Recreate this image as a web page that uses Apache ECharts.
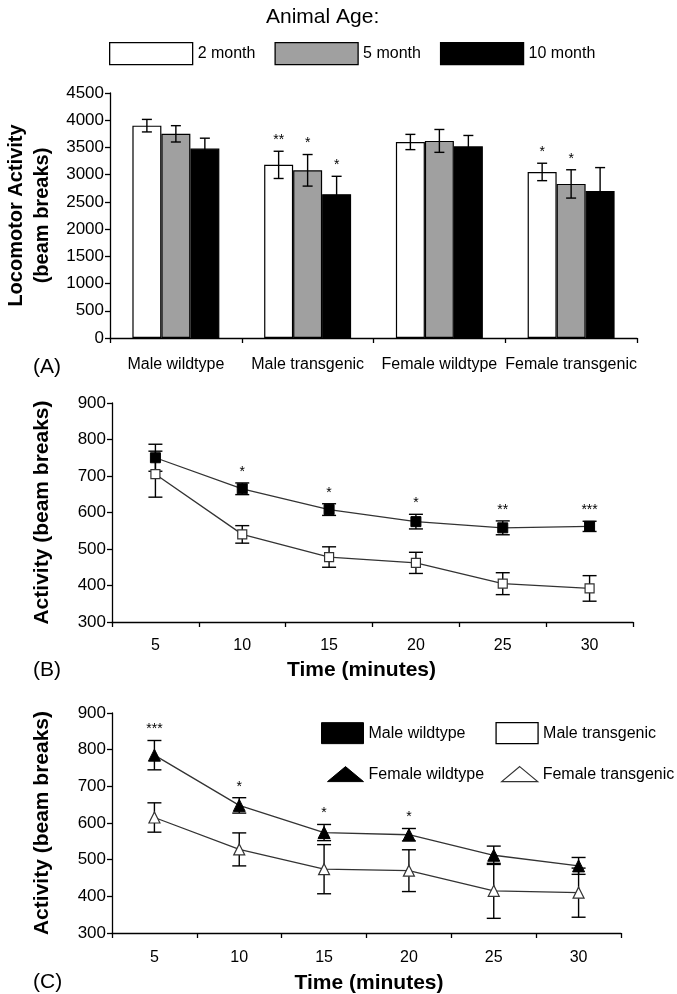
<!DOCTYPE html>
<html><head><meta charset="utf-8">
<script src="https://cdn.jsdelivr.net/npm/echarts/dist/echarts.min.js"></script>
<style>html,body{margin:0;padding:0;background:#fff}#c{width:677px;height:994px}</style>
</head><body><div id="c"></div><script>
// ---- Panel A data ----
const groups = ['Male wildtype','Male transgenic','Female wildtype','Female transgenic'];
const ages = ['2 month','5 month','10 month'];
const act2 = [3900,3180,3600,3050];
const err2 = [115,250,140,160];
const act5 = [3750,3080,3620,2830];
const err5 = [150,290,210,260];
const act10 = [3480,2640,3520,2700];
const err10 = [190,330,200,430];
const sig2 = ['','**','','*'];
const sig5 = ['','*','','*'];
const sig10 = ['','*','',''];
// ---- Panel B data ----
const minutes = ['5','10','15','20','25','30'];
const maleWt = [750,665,608,575,558,562];
const maleWtErr = [37,16,16,20,19,14];
const maleTg = [705,540,478,462,405,392];
const maleTgErr = [63,24,28,29,30,35];
const sigB = ['','*','*','*','**','***'];
// ---- Panel C data ----
const femWt = [785,648,574,568,512,483];
const femWtErr = [40,21,22,17,25,23];
const femTg = [615,528,474,470,415,410];
const femTgErr = [40,45,67,57,75,67];
const sigC = ['***','*','*','*','',''];
const yTicksA = {min:0, max:4500, interval:500};
const yTicksBC = {min:300, max:900, interval:100};

const FONT = 'Liberation Sans, Arial, Helvetica, sans-serif';
const BAR_GAP = 0.34;

function errRender(sigs, k, capW){
  return function(params, api){
    const i = api.value(0), v = api.value(1), e = api.value(2);
    let dx = 0;
    if (k !== null){
      const band = api.size([1,0])[0];
      const bw = band*(1-BAR_GAP)/3;
      dx = (k-1)*bw;
    }
    const t = api.coord([i, v+e]); const b = api.coord([i, v-e]);
    const x = t[0]+dx;
    const st = {stroke:'#000', lineWidth:1.4};
    const ch = [
      {type:'line', shape:{x1:x,y1:t[1],x2:x,y2:b[1]}, style:st},
      {type:'line', shape:{x1:x-capW,y1:t[1],x2:x+capW,y2:t[1]}, style:st},
      {type:'line', shape:{x1:x-capW,y1:b[1],x2:x+capW,y2:b[1]}, style:st}
    ];
    if (sigs && sigs[params.dataIndex]) {
      ch.push({type:'text', x:x, y:t[1]-11, style:{text:sigs[params.dataIndex], align:'center', verticalAlign:'middle', fontSize:14, fontFamily:FONT, fill:'#000'}});
    }
    return {type:'group', children:ch};
  };
}
function errData(vals, errs){ return vals.map((v,i)=>[i, v, errs[i]]); }

const axisLineStyle = {color:'#000', width:1.3};
function yAxis(grid, t, name, gap){
  return {type:'value', gridIndex:grid, min:t.min, max:t.max, interval:t.interval,
    axisLine:{show:true, lineStyle:axisLineStyle},
    axisTick:{show:true, inside:false, length:5, lineStyle:axisLineStyle},
    splitLine:{show:false},
    axisLabel:{fontSize:17, color:'#000', fontFamily:FONT, margin:6, formatter:(v)=>String(v)},
    name:name, nameLocation:'middle', nameRotate:90, nameGap:gap,
    nameTextStyle:{fontSize:gap>55?21:20, fontWeight:'bold', color:'#000', fontFamily:FONT, lineHeight:26}
  };
}
function xCat(grid, data, labelSize, margin, name, nameGap, pad){
  return {type:'category', gridIndex:grid, data:data, boundaryGap:true,
    axisLine:{show:true, lineStyle:axisLineStyle},
    axisTick:{show:true, alignWithLabel:false, length:5, lineStyle:axisLineStyle},
    splitLine:{show:false},
    axisLabel:{interval:0, fontSize:labelSize, color:'#000', fontFamily:FONT, margin:margin},
    name:name, nameLocation:'middle', nameGap:nameGap,
    nameTextStyle:{fontSize:21, fontWeight:'bold', color:'#000', fontFamily:FONT, padding:pad}
  };
}

const chart = echarts.init(document.getElementById('c'), null, {renderer:'canvas'});
const barColors = ['#ffffff','#a0a0a0','#000000'];
const barVals = [act2, act5, act10];
const barErrs = [err2, err5, err10];
const barSigs = [sig2, sig5, sig10];

const series = [];
ages.forEach((a,k)=>{
  series.push({type:'bar', name:a, xAxisIndex:0, yAxisIndex:0, data:barVals[k],
    barGap:'0%', barCategoryGap:(BAR_GAP*100)+'%',
    itemStyle:{color:barColors[k], borderColor:'#000', borderWidth:1.2}, z:2});
});
ages.forEach((a,k)=>{
  series.push({type:'custom', name:a+' err', xAxisIndex:0, yAxisIndex:0, data:errData(barVals[k], barErrs[k]),
    renderItem:errRender(barSigs[k], k, 5), clip:false, z:5, silent:true});
});
// Panel B
series.push({type:'custom', xAxisIndex:1, yAxisIndex:1, data:errData(maleTg, maleTgErr), renderItem:errRender(null,null,7), clip:false, z:1, silent:true});
series.push({type:'custom', xAxisIndex:1, yAxisIndex:1, data:errData(maleWt, maleWtErr), renderItem:errRender(sigB,null,7), clip:false, z:1, silent:true});
series.push({type:'line', name:'Male wildtype', xAxisIndex:1, yAxisIndex:1, data:maleWt, symbol:'rect', symbolSize:10,
  itemStyle:{color:'#000', borderColor:'#000', borderWidth:1}, lineStyle:{color:'#333', width:1.3}, z:3, animation:false});
series.push({type:'line', name:'Male transgenic', xAxisIndex:1, yAxisIndex:1, data:maleTg, symbol:'rect', symbolSize:9,
  itemStyle:{color:'#fff', borderColor:'#333', borderWidth:1.2}, lineStyle:{color:'#333', width:1.3}, z:3, animation:false});
// Panel C
series.push({type:'custom', xAxisIndex:2, yAxisIndex:2, data:errData(femTg, femTgErr), renderItem:errRender(null,null,7), clip:false, z:1, silent:true});
series.push({type:'custom', xAxisIndex:2, yAxisIndex:2, data:errData(femWt, femWtErr), renderItem:errRender(sigC,null,7), clip:false, z:1, silent:true});
series.push({type:'line', name:'Female wildtype', xAxisIndex:2, yAxisIndex:2, data:femWt, symbol:'triangle', symbolSize:12,
  itemStyle:{color:'#000', borderColor:'#000', borderWidth:1}, lineStyle:{color:'#333', width:1.3}, z:3, animation:false});
series.push({type:'line', name:'Female transgenic', xAxisIndex:2, yAxisIndex:2, data:femTg, symbol:'triangle', symbolSize:11,
  itemStyle:{color:'#fff', borderColor:'#333', borderWidth:1.2}, lineStyle:{color:'#333', width:1.3}, z:3, animation:false});

const legendText = {fontSize:16, color:'#000', fontFamily:FONT};
const option = {
  animation:false,
  backgroundColor:'#fff',
  title:{text:'Animal Age:', left:266, top:7, padding:0, textStyle:{fontSize:21, fontWeight:'normal', color:'#000', fontFamily:FONT}},
  legend:[
    {data:ages.map((a,k)=>({name:a, icon:'rect', itemStyle:{color:barColors[k], borderColor:'#000', borderWidth:1.3}})),
     left:109, top:42, itemWidth:83, itemHeight:22, itemGap:19, padding:0, selectedMode:false, textStyle:legendText},
    {data:[{name:'Male wildtype', icon:'rect', itemStyle:{color:'#000', borderColor:'#000', borderWidth:1}},
           {name:'Male transgenic', icon:'rect', itemStyle:{color:'#fff', borderColor:'#000', borderWidth:1.3}}],
     left:321, top:722, itemWidth:42, itemHeight:21, itemGap:30, padding:0, selectedMode:false, textStyle:legendText},
    {data:[{name:'Female wildtype', icon:'triangle', itemStyle:{color:'#000', borderColor:'#000', borderWidth:1}},
           {name:'Female transgenic', icon:'triangle', itemStyle:{color:'#fff', borderColor:'#333', borderWidth:1.2}}],
     left:327, top:766, itemWidth:36, itemHeight:15, itemGap:17, padding:0, selectedMode:false, textStyle:legendText}
  ],
  grid:[
    {left:110, top:93, width:527, height:245, outerBoundsMode:'none', containLabel:false},
    {left:112, top:403, width:521, height:219, outerBoundsMode:'none', containLabel:false},
    {left:112, top:713, width:509, height:220, outerBoundsMode:'none', containLabel:false}
  ],
  xAxis:[
    xCat(0, groups, 16, 19, '', 0, 0),
    xCat(1, minutes, 16, 16, 'Time (minutes)', 38, [0,22,0,0]),
    xCat(2, minutes, 16, 17, 'Time (minutes)', 40, [0,0,0,5])
  ],
  yAxis:[
    yAxis(0, yTicksA, 'Locomotor Activity\n(beam breaks)', 53),
    yAxis(1, yTicksBC, 'Activity (beam breaks)', 57),
    yAxis(2, yTicksBC, 'Activity (beam breaks)', 57)
  ],
  graphic:[
    {type:'text', left:33, top:357, style:{text:'(A)', fontSize:21, fontFamily:FONT, fill:'#000'}},
    {type:'text', left:33, top:660, style:{text:'(B)', fontSize:21, fontFamily:FONT, fill:'#000'}},
    {type:'text', left:33, top:972, style:{text:'(C)', fontSize:21, fontFamily:FONT, fill:'#000'}}
  ],
  series:series
};
chart.setOption(option);
</script></body></html>
